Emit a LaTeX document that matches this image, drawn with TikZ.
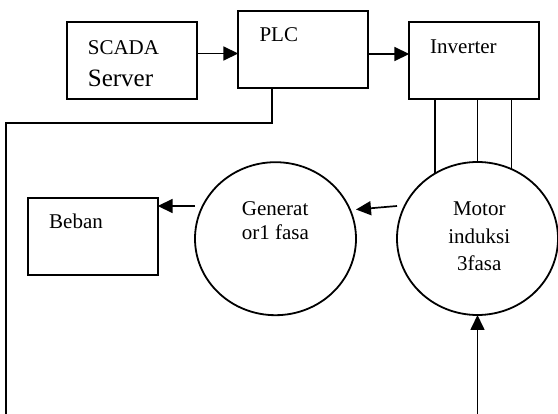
\documentclass[tikz,border=0pt]{standalone}
\usepackage{fontspec}
\setmainfont{Liberation Serif}
\usetikzlibrary{arrows.meta,shapes.geometric}
\begin{document}
\begin{tikzpicture}[x=1pt,y=-1pt,
  boxnode/.style={draw,line width=2pt,minimum width=130pt,minimum height=77pt,inner sep=0pt,outer sep=0pt},
  ellnode/.style={draw,ellipse,line width=1.8pt,minimum width=161pt,minimum height=153pt,inner sep=0pt,outer sep=0pt},
  conn/.style={line width=1.7pt},
  leg/.style={line width=1.5pt},
  arr/.style={line width=1.7pt,-{Triangle[length=15pt,width=14pt]}},
  txt/.style={inner sep=0pt,font=\fontsize{21}{25}\selectfont}
]
\useasboundingbox (0,0) rectangle (558,414);
% boxes
\node[boxnode] (scada) at (131.7,61) {};
\node[boxnode] (plc) at (303.3,49.2) {};
\node[boxnode] (inv) at (474.3,61) {};
\node[boxnode] (beban) at (92.7,236.3) {};
% machines
\node[ellnode] (gen) at (275.5,238.7) {};
\node[ellnode] (motor) at (477.5,238.5) {};
% texts
\node[txt,anchor=base west] (tscada) at (87.7,54.3) {SCADA};
\node[txt,anchor=base west,font=\fontsize{25}{30}\selectfont] (tserver) at (87.7,86.7) {Server};
\node[txt,anchor=base west] (tplc) at (259.3,41.7) {PLC};
\node[txt,anchor=base west] (tinv) at (430,54) {Inverter};
\node[txt,anchor=base west] (tbeban) at (49,229) {Beban};
\node[txt,anchor=base west] (tgen1) at (241.7,216) {Generat};
\node[txt,anchor=base west] (tgen2) at (241.7,240) {or1 fasa};
\node[txt,anchor=base] (tmot1) at (479.3,215.7) {Motor};
\node[txt,anchor=base] (tmot2) at (479.3,243.3) {induksi};
\node[txt,anchor=base] (tmot3) at (479.3,271) {3fasa};
% connectors
\draw[arr] (scada.east |- 0,53.5) -- (plc.west |- 0,53.5);
\draw[arr] (plc.east |- 0,54) -- (inv.west |- 0,54);
\coordinate (c1) at (272.3,123);
\coordinate (c2) at (6,123);
\coordinate (c3) at (6,414);
\draw[conn] (plc.south -| c1) -- (c1) -- (c2) -- (c3);
\draw[leg] (inv.south -| motor.123.3) -- (motor.123.3);
\draw[leg] (inv.south -| motor.north) -- (motor.north);
\draw[leg] (inv.south -| motor.64.5) -- (motor.64.5);
\draw[arr] (motor.west |- 0,206) -- (gen.east |- 0,209.5);
\draw[arr] (gen.west |- 0,206) -- (beban.east |- 0,206);
\coordinate (mb) at (477.5,414);
\draw[arr] (mb) -- (motor.south);
\end{tikzpicture}
\end{document}
